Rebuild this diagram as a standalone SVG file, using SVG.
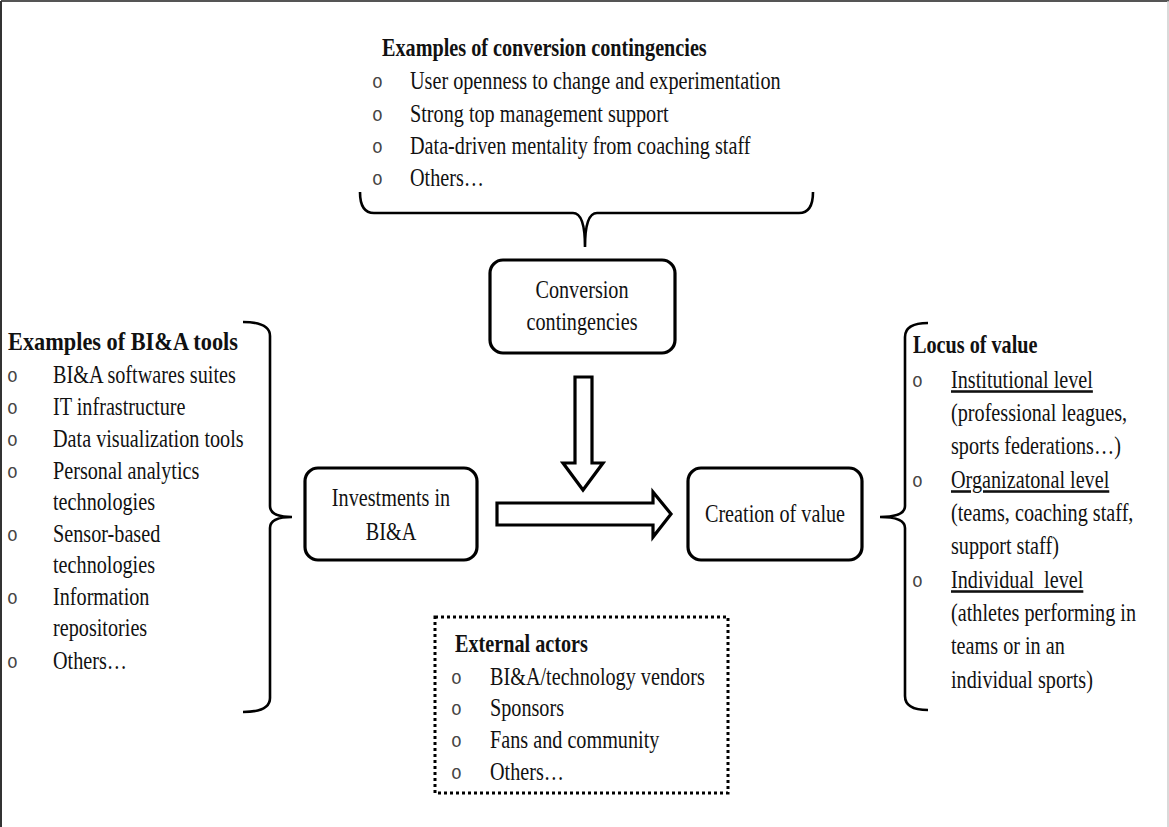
<svg xmlns="http://www.w3.org/2000/svg" width="1169" height="827" viewBox="0 0 1169 827">
  <style>
    text { font-family: "Liberation Serif", "Times New Roman", serif; font-size: 20.2px; fill: #111; }
    .b { font-weight: bold; }
    .c { text-anchor: middle; }
    .bul { font-family: "Liberation Mono", "Courier New", monospace; font-size: 18px; fill: #444; }
    .u { text-decoration: underline; }
    .box { fill: #fff; stroke: #000; stroke-width: 3.2; }
    .brace { fill: none; stroke: #000; stroke-width: 2.6; }
    .arrow { fill: #fff; stroke: #000; stroke-width: 3.2; stroke-linejoin: miter; }
    .dotted { fill: none; stroke: #000; stroke-width: 3; stroke-dasharray: 3 3; }
  </style>

  <rect width="1169" height="827" fill="#fff"/>
  <!-- page frame -->
  <line x1="1" y1="1" x2="1169" y2="1" stroke="#555" stroke-width="2"/>
  <line x1="1" y1="1" x2="1" y2="827" stroke="#333" stroke-width="2"/>
  <line x1="1168" y1="1" x2="1168" y2="827" stroke="#ccc" stroke-width="1.5"/>

  <!-- conversion contingencies examples (glyphs drawn tall: scale 1 x 1.27) -->
  <g id="contingency-examples">
    <text class="b" transform="translate(382,56) scale(1,1.27)">Examples of conversion contingencies</text>
    <text class="bul" transform="translate(372,88) scale(1,1.1)">o</text><text transform="translate(410,89) scale(1,1.27)">User openness to change and experimentation</text>
    <text class="bul" transform="translate(372,121) scale(1,1.1)">o</text><text transform="translate(410,122) scale(1,1.27)">Strong top management support</text>
    <text class="bul" transform="translate(372,153) scale(1,1.1)">o</text><text transform="translate(410,154) scale(1,1.27)">Data-driven mentality from coaching staff</text>
    <text class="bul" transform="translate(372,185) scale(1,1.1)">o</text><text transform="translate(410,186) scale(1,1.27)">Others…</text>
  </g>

  <!-- BI&A tools examples -->
  <g id="tools-examples">
    <text class="b" transform="translate(8,350) scale(1,1.27)" textLength="230" lengthAdjust="spacingAndGlyphs">Examples of BI&amp;A tools</text>
    <text class="bul" transform="translate(7,382) scale(1,1.1)">o</text><text transform="translate(53,383) scale(1,1.27)">BI&amp;A softwares suites</text>
    <text class="bul" transform="translate(7,414) scale(1,1.1)">o</text><text transform="translate(53,415) scale(1,1.27)">IT infrastructure</text>
    <text class="bul" transform="translate(7,446) scale(1,1.1)">o</text><text transform="translate(53,447) scale(1,1.27)">Data visualization tools</text>
    <text class="bul" transform="translate(7,478) scale(1,1.1)">o</text><text transform="translate(53,479) scale(1,1.27)">Personal analytics</text>
    <text transform="translate(53,510) scale(1,1.27)">technologies</text>
    <text class="bul" transform="translate(7,541) scale(1,1.1)">o</text><text transform="translate(53,542) scale(1,1.27)">Sensor-based</text>
    <text transform="translate(53,573) scale(1,1.27)">technologies</text>
    <text class="bul" transform="translate(7,604) scale(1,1.1)">o</text><text transform="translate(53,605) scale(1,1.27)">Information</text>
    <text transform="translate(53,636) scale(1,1.27)">repositories</text>
    <text class="bul" transform="translate(7,668) scale(1,1.1)">o</text><text transform="translate(53,669) scale(1,1.27)">Others…</text>
  </g>

  <!-- locus of value -->
  <g id="locus-of-value">
    <text class="b" transform="translate(913,353) scale(1,1.27)">Locus of value</text>
    <text class="bul" transform="translate(912,387) scale(1,1.1)">o</text><text class="u" transform="translate(951,388) scale(1,1.27)">Institutional level</text>
    <text transform="translate(951,421) scale(1,1.27)">(professional leagues,</text>
    <text transform="translate(951,454) scale(1,1.27)">sports federations…)</text>
    <text class="bul" transform="translate(912,487) scale(1,1.1)">o</text><text class="u" transform="translate(951,488) scale(1,1.27)">Organizatonal level</text>
    <text transform="translate(951,521) scale(1,1.27)">(teams, coaching staff,</text>
    <text transform="translate(951,554) scale(1,1.27)">support staff)</text>
    <text class="bul" transform="translate(912,587) scale(1,1.1)">o</text><text class="u" transform="translate(951,588) scale(1,1.27)" xml:space="preserve">Individual  level</text>
    <text transform="translate(951,621) scale(1,1.27)">(athletes performing in</text>
    <text transform="translate(951,654) scale(1,1.27)">teams or in an</text>
    <text transform="translate(951,688) scale(1,1.27)">individual sports)</text>
  </g>

  <!-- external actors -->
  <g id="external-actors">
    <rect class="dotted" x="435" y="617" width="293" height="176"/>
    <text class="b" transform="translate(455,652) scale(1,1.27)">External actors</text>
    <text class="bul" transform="translate(451,684) scale(1,1.1)">o</text><text transform="translate(490,685) scale(1,1.27)">BI&amp;A/technology vendors</text>
    <text class="bul" transform="translate(451,715) scale(1,1.1)">o</text><text transform="translate(490,716) scale(1,1.27)">Sponsors</text>
    <text class="bul" transform="translate(451,747) scale(1,1.1)">o</text><text transform="translate(490,748) scale(1,1.27)">Fans and community</text>
    <text class="bul" transform="translate(451,779) scale(1,1.1)">o</text><text transform="translate(490,780) scale(1,1.27)">Others…</text>
  </g>

  <!-- main nodes -->
  <g id="conversion-contingencies">
    <rect class="box" x="490" y="260" width="185" height="93" rx="13"/>
    <text class="c" transform="translate(582,298) scale(1,1.27)">Conversion</text>
    <text class="c" transform="translate(582,330) scale(1,1.27)">contingencies</text>
  </g>
  <g id="investments">
    <rect class="box" x="305" y="468" width="172" height="92" rx="13"/>
    <text class="c" transform="translate(391,506) scale(1,1.27)">Investments in</text>
    <text class="c" transform="translate(391,540) scale(1,1.27)">BI&amp;A</text>
  </g>
  <g id="creation-of-value">
    <rect class="box" x="688" y="468" width="174" height="92" rx="13"/>
    <text class="c" transform="translate(775,522) scale(1,1.27)">Creation of value</text>
  </g>

  <!-- connectors: braces and block arrows -->
  <g id="connectors">
    <path class="brace" d="M360,192 Q360,213 374,213 L573,213 Q585,213 585,247 Q585,213 597,213 L799,213 Q813,213 813,192"/>
    <path class="brace" d="M243,322 Q270,322 270,336 L270,506 Q270,517 292,517 Q270,517 270,528 L270,698 Q270,712 243,712"/>
    <path class="brace" d="M928,323 Q905,323 905,337 L905,506 Q905,517 880,517 Q905,517 905,528 L905,696 Q905,710 928,710"/>
    <path class="arrow" d="M575,377 L592,377 L592,463 L603,463 L583,490 L563,463 L575,463 Z"/>
    <path class="arrow" d="M497,503 L653,503 L653,492 L671,514 L653,537 L653,525 L497,525 Z"/>
  </g>
</svg>
